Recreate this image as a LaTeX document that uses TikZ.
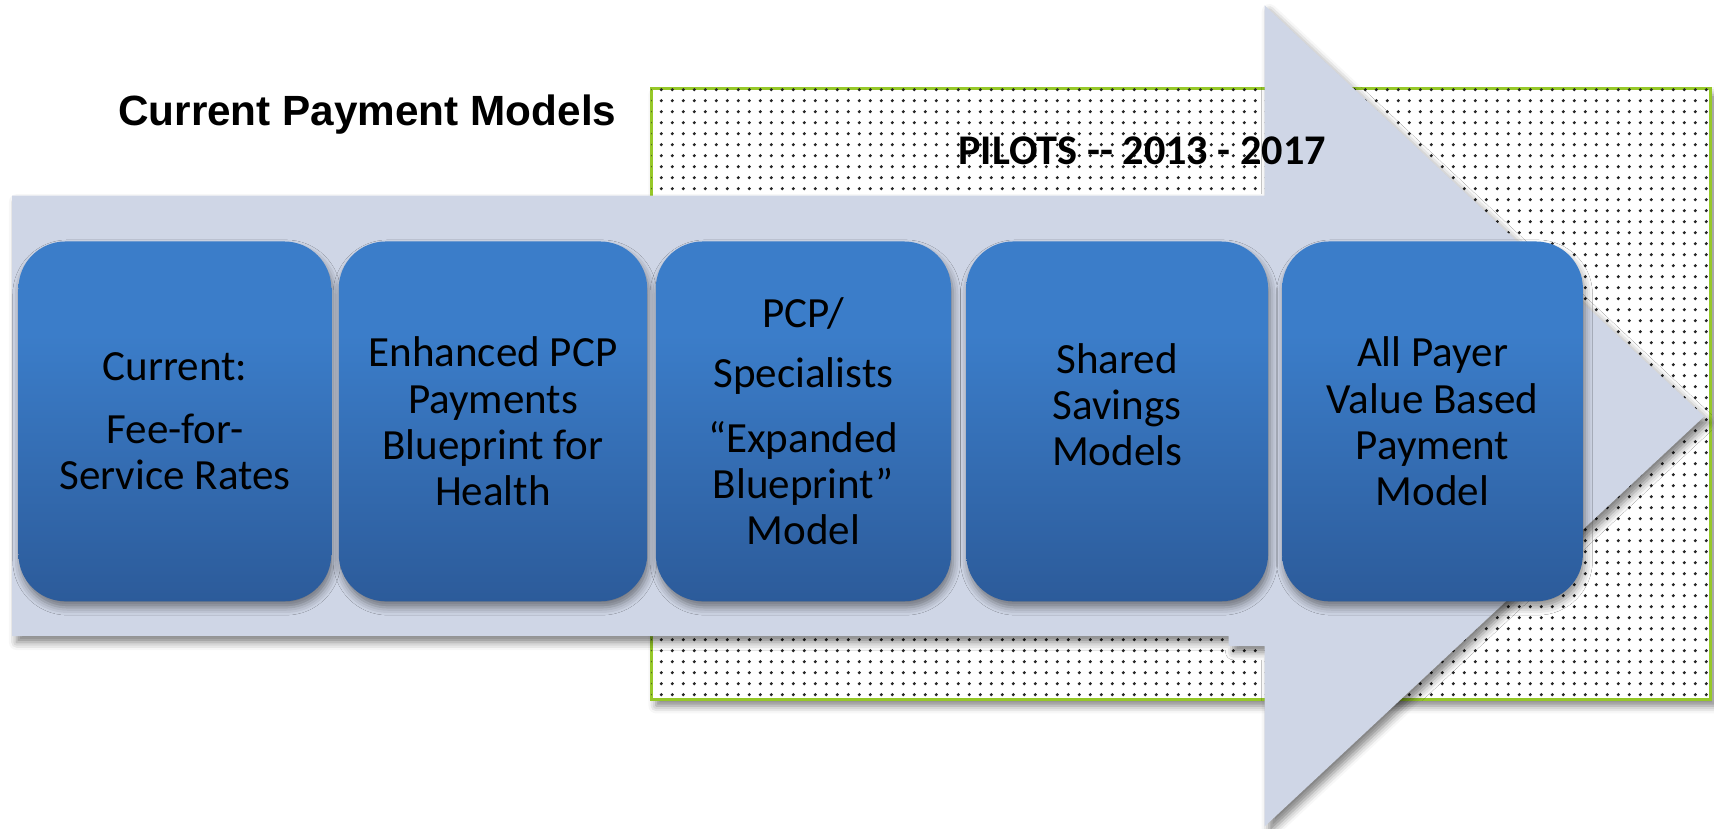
\documentclass[tikz,border=0pt]{standalone}
\usepackage{fontspec}
\setmainfont{Carlito}
\newfontfamily\titlefont{Liberation Sans}
\usetikzlibrary{positioning,patterns,shadows.blur}

\definecolor{arrowgray}{RGB}{207,214,230}
\definecolor{pilotgreen}{RGB}{150,200,40}
\definecolor{boxtop}{RGB}{59,125,201}
\definecolor{boxbottom}{RGB}{44,91,154}

\pgfdeclareverticalshading{stageshade}{100bp}{color(0bp)=(boxbottom); color(25bp)=(boxbottom);
  color(62bp)=(boxtop); color(100bp)=(boxtop)}
\pgfdeclarepatternformonly{pilotdots}{\pgfpointorigin}{\pgfqpoint{2.8pt}{2.8pt}}{\pgfqpoint{2.8pt}{2.8pt}}{%
  \pgfpathcircle{\pgfqpoint{1.4pt}{1.4pt}}{0.46pt}\pgfusepath{fill}}

\begin{document}
\begin{tikzpicture}[x=0.01cm,y=-0.01cm]
\useasboundingbox (0,0) rectangle (1568,758);
\tikzset{StageStyle/.style =
	{shade,
		shading = stageshade,
		rounded corners = 0.43cm,
		minimum height = 3.29cm,
		inner sep = 0pt,
		align = center,
		font = \fontsize{11.2}{12}\selectfont,
		blur shadow = {shadow xshift=0.5pt, shadow yshift=-1.6pt,
			shadow blur radius=2pt, shadow opacity=45}},
	ShadowStyle/.style =
	{blur shadow = {shadow xshift=1.2pt, shadow yshift=-1.6pt,
			shadow blur radius=2pt, shadow opacity=50}}}
% pilot area
\draw[pilotgreen, line width=0.8pt, fill=white, ShadowStyle,
	postaction={pattern=pilotdots, pattern color=black!85}] (596,81) rectangle (1565,640);
% big arrow
\fill[arrowgray, ShadowStyle] (11,179) -- (1157,179) -- (1157,5) -- (1559,381)
	-- (1157,756) -- (1157,591) -- (1124,591) -- (1124,582) -- (11,582) -- cycle;
\node[font=\titlefont\bfseries\fontsize{11}{13}\selectfont] (title) at (336,105) {Current Payment Models};
\node[font=\bfseries\fontsize{11}{13}\selectfont] (pilots) at (1045,138) {PILOTS {-}{-} 2013 - 2017};
\node[StageStyle, minimum width=2.86cm] (current) at (160,385.5)
	{Current:\\[4.5pt] Fee-for-\\ Service Rates};
\node[StageStyle, minimum width=2.82cm] (enhanced) at (451,385.5)
	{Enhanced PCP\\ Payments\\ Blueprint for\\ Health};
\node[StageStyle, minimum width=2.70cm] (specialists) at (735,385.5)
	{PCP/\\[3.6pt] Specialists\\[5pt] “Expanded\\ Blueprint”\\ Model};
\node[StageStyle, minimum width=2.76cm] (shared) at (1022,385.5)
	{\raisebox{2.8pt}[\height][\depth]{\begin{tabular}{@{}c@{}}Shared\\ Savings\\ Models\end{tabular}}};
\node[StageStyle, minimum width=2.75cm] (allpayer) at (1310.5,385.5)
	{All Payer\\ Value Based\\ Payment\\ Model};
\end{tikzpicture}
\end{document}
